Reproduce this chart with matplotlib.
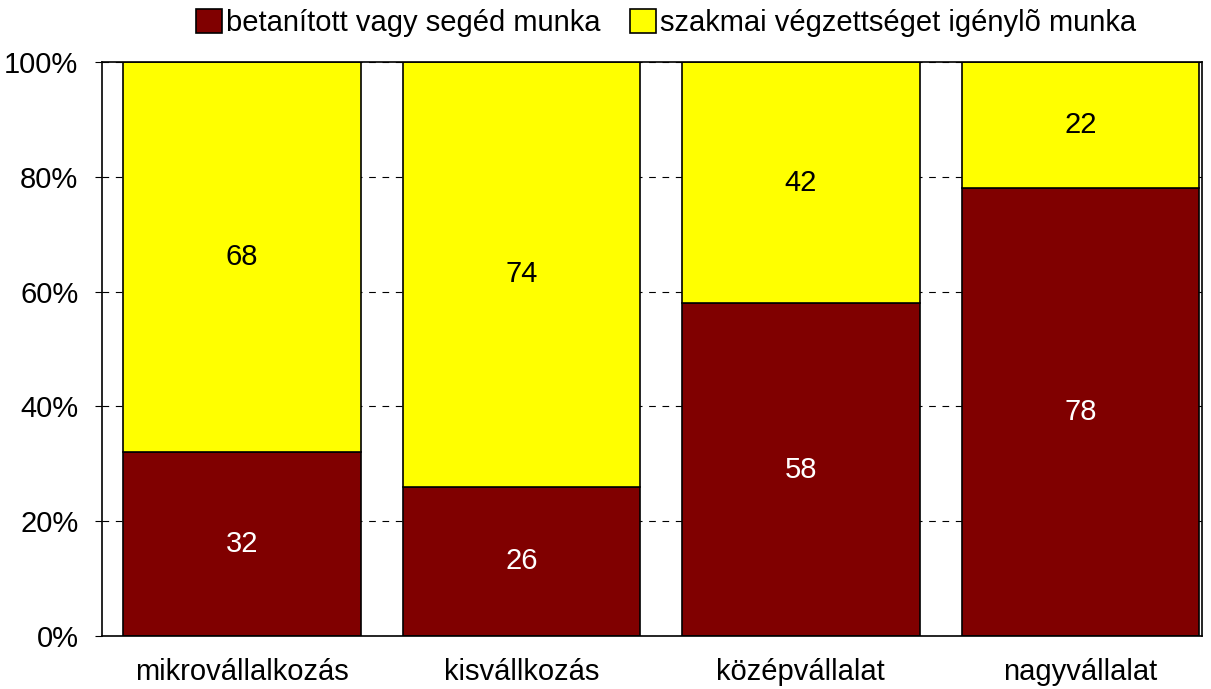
import matplotlib
matplotlib.use("Agg")
import matplotlib.pyplot as plt
from matplotlib import font_manager as fm

categories = ["mikrovállalkozás", "kisvállkozás", "középvállalat", "nagyvállalat"]
betanitott = [32, 26, 58, 78]
szakmai = [68, 74, 42, 22]
series_names = ["betanított vagy segéd munka", "szakmai végzettséget igénylõ munka"]
yticks = [0, 20, 40, 60, 80, 100]

names = {f.name for f in fm.fontManager.ttflist}
fam = ["Liberation Sans Narrow", "Liberation Sans", "DejaVu Sans"]
fam = [f for f in fam if f in names] + ["DejaVu Sans"]
plt.rcParams['font.family'] = fam

fig = plt.figure(figsize=(12.11, 6.89), dpi=100)
ax = fig.add_axes([102/1211, 1 - 636/689, 1100/1211, (636-62)/689])

x = list(range(len(categories)))
w = 0.85
ax.set_axisbelow(True)
ax.yaxis.grid(True, color='black', linestyle=(0, (6, 6)), linewidth=0.8)
b1 = ax.bar(x, betanitott, width=w, color='#800000', edgecolor='black', linewidth=1.2,
            label=series_names[0], zorder=2)
b2 = ax.bar(x, szakmai, width=w, bottom=betanitott, color='#FFFF00', edgecolor='black',
            linewidth=1.2, label=series_names[1], zorder=2)
for i in x:
    ax.text(i, betanitott[i] / 2, str(betanitott[i]), ha='center', va='center',
            color='white', fontsize=21)
    ax.text(i, betanitott[i] + szakmai[i] / 2, str(szakmai[i]), ha='center', va='center',
            color='black', fontsize=21)

ax.set_xlim(-0.5, 3.435)
ax.set_ylim(0, 100)
ax.set_yticks(yticks)
ax.set_yticklabels([f"{v}%" for v in yticks], fontsize=21)
ax.set_xticks(x)
ax.set_xticklabels(categories, fontsize=21)
ax.tick_params(axis='y', length=5, width=0.8, direction='out', pad=12)
ax.tick_params(axis='x', length=0, pad=16)
for s in ax.spines.values():
    s.set_color('black')
    s.set_linewidth(1.2)

leg = fig.legend(handles=[b1, b2], loc='upper center', bbox_to_anchor=(0.55, 1.025),
                 ncol=2, frameon=False, fontsize=21, handlelength=0.9, handleheight=0.9,
                 handletextpad=0.15, columnspacing=1.0)

fig.savefig("out.png", dpi=100)
